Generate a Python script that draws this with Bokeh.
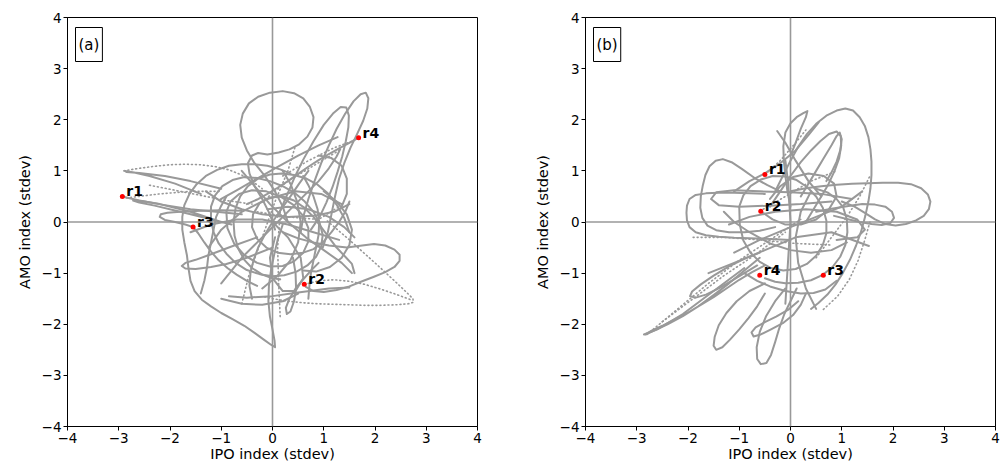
from bokeh.plotting import figure
from bokeh.layouts import row
from bokeh.models import Span, Label, FixedTicker, ColumnDataSource
from bokeh.core.properties import value
from bokeh.embed import file_html
from bokeh.resources import INLINE

# ---------------- data (IPO index, AMO index in stdev) ----------------
ticks = [-4, -3, -2, -1, 0, 1, 2, 3, 4]
tick_labels = ["\u22124", "\u22123", "\u22122", "\u22121", "0", "1", "2", "3", "4"]

# Panel (a) trajectory pieces: slow parts (solid) and fast parts (dotted)
a_solid = [
    [(0.3,0.0),(0.2,0.3),(0.05,0.6),(-0.15,0.9),(-0.35,1.15),(-0.5,1.4),(-0.6,1.65),(-0.63,1.9),(-0.58,2.12),(-0.46,2.32),(-0.28,2.45),(-0.05,2.53),(0.2,2.56),(0.42,2.52),(0.6,2.42),(0.73,2.25),(0.8,2.05),(0.78,1.85),(0.68,1.67),(0.52,1.52),(0.33,1.42),(0.12,1.36),(-0.1,1.32),(-0.28,1.35),(-0.4,1.3),(-0.48,1.15),(-0.45,0.95),(-0.35,0.7),(-0.2,0.45),(-0.05,0.15),(0.05,-0.15)],
    [(0.55,-0.2),(0.6,0.1),(0.7,0.45),(0.82,0.8),(0.95,1.15),(1.1,1.5),(1.25,1.82),(1.42,2.12),(1.58,2.36),(1.72,2.5),(1.82,2.53),(1.87,2.42),(1.85,2.22),(1.77,1.98),(1.65,1.72),(1.52,1.45),(1.4,1.15),(1.3,0.85),(1.22,0.5),(1.15,0.15),(1.08,-0.2),(0.98,-0.5)],
    [(0.1,0.1),(0.25,0.45),(0.42,0.85),(0.6,1.22),(0.8,1.58),(1.0,1.9),(1.18,2.12),(1.33,2.25),(1.44,2.24),(1.49,2.08),(1.48,1.85),(1.43,1.58),(1.36,1.28),(1.27,0.98),(1.17,0.68),(1.05,0.38),(0.92,0.1),(0.75,-0.15)],
    [(1.68,1.65),(1.5,1.55),(1.3,1.44),(1.1,1.33),(0.9,1.21),(0.7,1.08),(0.5,0.94),(0.3,0.8),(0.1,0.67),(-0.1,0.55),(-0.3,0.44),(-0.5,0.35)],
    [(1.27,1.66),(0.9,1.5),(0.5,1.3),(0.1,1.08),(-0.3,0.85),(-0.7,0.62),(-1.0,0.45)],
    [(0.35,0.95),(0.15,1.03),(-0.1,1.1),(-0.35,1.13),(-0.6,1.13),(-0.85,1.1),(-1.08,1.02),(-1.3,0.9),(-1.48,0.74),(-1.62,0.55),(-1.72,0.33),(-1.76,0.1),(-1.76,-0.15),(-1.72,-0.4),(-1.67,-0.65),(-1.64,-0.9),(-1.6,-1.15),(-1.52,-1.35),(-1.38,-1.52),(-1.2,-1.65),(-1.0,-1.78),(-0.78,-1.9),(-0.55,-2.03),(-0.35,-2.17),(-0.17,-2.3),(-0.03,-2.4),(0.05,-2.45),(0.04,-2.32),(0.0,-2.1),(-0.05,-1.85),(-0.08,-1.55),(-0.07,-1.25),(-0.03,-0.95),(0.03,-0.65),(0.1,-0.35),(0.2,-0.05)],
    [(-2.93,0.5),(-2.6,0.42),(-2.1,0.33),(-1.6,0.25),(-1.1,0.2),(-0.6,0.15)],
    [(-1.0,0.0),(-1.6,0.2),(-2.2,0.35),(-2.55,0.41),(-2.72,0.42),(-2.6,0.38),(-2.3,0.32),(-1.8,0.2),(-1.3,0.08),(-0.8,-0.05)],
    [(-1.4,0.55),(-1.9,0.75),(-2.4,0.9),(-2.7,0.97),(-2.88,1.0),(-2.85,0.98),(-2.6,0.96),(-2.1,0.9),(-1.6,0.8),(-1.0,0.65)],
    [(-0.6,0.22),(-1.0,0.23),(-1.4,0.22),(-1.8,0.2),(-2.05,0.18),(-2.18,0.15),(-2.2,0.1),(-2.1,0.04),(-1.9,0.0),(-1.7,-0.05),(-1.55,-0.1),(-1.45,-0.22),(-1.33,-0.4),(-1.2,-0.58),(-1.05,-0.75),(-0.88,-0.9),(-0.7,-1.03),(-0.5,-1.15),(-0.3,-1.25)],
    [(-0.3,-0.3),(-0.8,-0.48),(-1.2,-0.63),(-1.5,-0.74),(-1.7,-0.8),(-1.77,-0.86),(-1.7,-0.91),(-1.5,-0.92),(-1.2,-0.88),(-0.9,-0.82),(-0.5,-0.7),(0.0,-0.5)],
    [(0.2,-0.2),(0.5,-0.32),(0.8,-0.4),(1.1,-0.46),(1.45,-0.5),(1.75,-0.46),(1.98,-0.43),(2.2,-0.46),(2.38,-0.54),(2.48,-0.64),(2.48,-0.76),(2.38,-0.88),(2.2,-0.98),(1.98,-1.07),(1.75,-1.16),(1.5,-1.26),(1.25,-1.33),(1.0,-1.37),(0.8,-1.35),(0.65,-1.27)],
    [(0.9,-0.8),(0.75,-0.95),(0.6,-1.12),(0.45,-1.3),(0.33,-1.5),(0.26,-1.68),(0.28,-1.8),(0.35,-1.75),(0.42,-1.55),(0.46,-1.3),(0.45,-1.0),(0.4,-0.7)],
    [(-0.85,-1.45),(-0.5,-1.48),(0.0,-1.45),(0.5,-1.38),(1.1,-1.3),(1.5,-1.28)],
    [(-1.2,0.3),(-1.12,0.52),(-0.98,0.7),(-0.78,0.82),(-0.55,0.88),(-0.3,0.86),(-0.05,0.8),(0.2,0.7),(0.43,0.57),(0.63,0.4),(0.8,0.2),(0.92,-0.02),(0.98,-0.25),(0.95,-0.48),(0.85,-0.68),(0.68,-0.85),(0.47,-0.97),(0.23,-1.04),(0.0,-1.06),(-0.25,-1.02),(-0.5,-0.94),(-0.72,-0.8),(-0.9,-0.62),(-1.05,-0.42),(-1.15,-0.2),(-1.2,0.05),(-1.2,0.3)],
    [(-0.9,0.2),(-0.82,0.4),(-0.65,0.55),(-0.4,0.62),(-0.12,0.6),(0.15,0.5),(0.4,0.34),(0.6,0.12),(0.7,-0.12),(0.7,-0.38),(0.6,-0.6),(0.42,-0.77),(0.2,-0.86),(-0.05,-0.87),(-0.3,-0.8),(-0.55,-0.65),(-0.75,-0.42),(-0.88,-0.12),(-0.9,0.2)],
    [(-1.0,-1.2),(-0.8,-0.95),(-0.6,-0.7),(-0.35,-0.45),(-0.1,-0.2),(0.15,0.05),(0.4,0.3),(0.65,0.55),(0.9,0.8),(1.1,1.05),(1.25,1.28),(1.32,1.42)],
    [(1.5,0.4),(1.42,0.2),(1.3,0.0),(1.15,-0.2),(1.0,-0.38),(0.8,-0.53),(0.6,-0.6),(0.35,-0.63),(0.1,-0.6),(-0.12,-0.5),(-0.3,-0.33),(-0.4,-0.1),(-0.38,0.15),(-0.25,0.37),(-0.05,0.48),(0.2,0.5),(0.42,0.42),(0.62,0.28),(0.8,0.1),(0.95,-0.1),(1.1,-0.3),(1.25,-0.5),(1.42,-0.68),(1.55,-0.82),(1.6,-1.0)],
    [(1.5,-0.2),(1.4,0.08),(1.25,0.34),(1.08,0.56),(0.88,0.73),(0.66,0.85),(0.42,0.92),(0.18,0.95),(-0.05,0.93),(-0.28,0.85),(-0.48,0.7),(-0.63,0.5),(-0.72,0.27),(-0.76,0.0),(-0.74,-0.27),(-0.67,-0.52),(-0.55,-0.74),(-0.4,-0.9),(-0.2,-1.03),(0.0,-1.1),(0.15,-1.12)],
    [(-0.4,-1.5),(-0.45,-1.25),(-0.43,-1.0),(-0.37,-0.75),(-0.28,-0.5),(-0.15,-0.25),(0.0,0.0),(0.17,0.25),(0.35,0.5),(0.52,0.75),(0.7,1.0)],
    [(0.7,-1.5),(0.72,-1.25),(0.75,-1.0),(0.8,-0.75),(0.85,-0.5),(0.9,-0.25),(0.91,0.0),(0.88,0.25),(0.8,0.5),(0.7,0.72),(0.6,0.9)],
    [(-1.4,-1.4),(-1.33,-1.15),(-1.28,-0.9),(-1.25,-0.65),(-1.2,-0.4),(-1.15,-0.15),(-1.1,0.1),(-1.0,0.32),(-0.9,0.5)],
    [(1.0,0.6),(1.25,0.4),(1.45,0.15),(1.55,-0.15),(1.5,-0.45),(1.35,-0.7),(1.12,-0.88),(0.85,-0.97),(0.6,-0.95)],
    [(-0.6,1.0),(-0.35,0.7),(-0.05,0.35),(0.3,0.0),(0.65,-0.3),(1.0,-0.55),(1.35,-0.8),(1.55,-1.0)],
    [(-1.3,0.6),(-1.0,0.4),(-0.6,0.25),(-0.2,0.15),(0.3,0.1),(0.8,0.12),(1.2,0.2),(1.5,0.35)],
    [(-0.2,-1.3),(0.1,-1.05),(0.35,-0.75),(0.5,-0.4),(0.55,0.0),(0.48,0.4),(0.35,0.75),(0.2,1.0)],
    [(0.9,1.3),(1.15,1.25),(1.35,1.1),(1.45,0.85),(1.45,0.55),(1.35,0.3)],
    [(-1.25,-0.5),(-1.0,-0.15),(-0.6,0.2),(-0.1,0.45),(0.45,0.6),(0.95,0.55),(1.35,0.35)],
    [(0.0,0.0),(0.3,-0.3),(0.55,-0.7),(0.6,-1.1),(0.45,-1.35),(0.2,-1.35),(0.0,-1.1),(-0.05,-0.7),(0.05,-0.3)],
    [(-1.6,-0.2),(-1.2,-0.05),(-0.7,0.05),(-0.2,0.05),(0.3,-0.05),(0.8,-0.2),(1.3,-0.35)],
    [(-1.0,-1.5),(-0.6,-1.6),(-0.2,-1.62),(0.2,-1.55),(0.5,-1.4)],
    [(1.6,-0.3),(1.4,-0.1),(1.1,0.1),(0.7,0.25),(0.3,0.3),(-0.1,0.25)],
]
a_dotted = [
    [(-2.9,1.0),(-2.6,1.05),(-2.3,1.09),(-2.0,1.12),(-1.7,1.13),(-1.4,1.12),(-1.1,1.08),(-0.85,1.02),(-0.6,0.92),(-0.4,0.8),(-0.2,0.65)],
    [(-2.4,0.72),(-1.9,0.62),(-1.4,0.52),(-0.9,0.42),(-0.4,0.35)],
    [(-2.85,0.47),(-2.2,0.55),(-1.6,0.6),(-1.0,0.6)],
    [(1.07,0.02),(1.5,-0.35),(2.0,-0.8),(2.4,-1.17),(2.62,-1.38),(2.74,-1.5),(2.75,-1.57),(2.65,-1.6),(2.4,-1.62),(2.1,-1.63),(1.8,-1.63),(1.5,-1.62),(1.2,-1.61),(0.9,-1.6),(0.6,-1.58),(0.3,-1.55),(0.0,-1.5),(-0.2,-1.45)],
    [(0.62,-1.22),(0.9,-1.15),(1.2,-1.13),(1.5,-1.16),(1.8,-1.22),(2.1,-1.31),(2.4,-1.41),(2.7,-1.52)],
    [(-0.6,-1.6),(-0.45,-1.0),(-0.2,-0.3),(0.05,0.4),(0.3,1.0),(0.45,1.5)],
    [(0.15,-1.85),(0.12,-1.2),(0.1,-0.5),(0.15,0.2)],
    [(0.2,0.9),(0.7,1.2),(1.2,1.45),(1.6,1.6)],
    [(-0.3,0.2),(0.3,0.1),(0.9,0.05),(1.3,0.3)],
    [(-0.2,0.4),(0.3,0.8),(0.8,1.1),(1.3,1.4)],
]
a_marks = ["r1", "r2", "r3", "r4"]
a_mark_x = [-2.93, 0.62, -1.55, 1.68]
a_mark_y = [0.50, -1.22, -0.10, 1.65]

# Panel (b)
b_solid = [
    [(-0.3,0.6),(-0.15,0.9),(0.0,1.2),(0.15,1.47),(0.32,1.72),(0.5,1.92),(0.7,2.08),(0.9,2.18),(1.07,2.22),(1.22,2.18),(1.35,2.05),(1.45,1.88),(1.52,1.66),(1.56,1.42),(1.58,1.18),(1.58,0.92),(1.56,0.66),(1.52,0.4),(1.46,0.12),(1.38,-0.18),(1.28,-0.46),(1.16,-0.74),(1.02,-1.0),(0.88,-1.22),(0.72,-1.42),(0.55,-1.58),(0.4,-1.7)],
    [(-0.4,0.3),(-0.2,0.6),(0.0,0.9),(0.2,1.17),(0.4,1.4),(0.58,1.58),(0.75,1.72),(0.9,1.77),(0.98,1.68),(0.99,1.5),(0.95,1.25),(0.86,1.0),(0.74,0.74),(0.6,0.5),(0.45,0.25),(0.3,0.0)],
    [(0.0,0.6),(0.3,0.66),(0.6,0.7),(0.9,0.73),(1.2,0.75),(1.5,0.76),(1.8,0.77),(2.1,0.77),(2.35,0.74),(2.55,0.66),(2.68,0.54),(2.73,0.4),(2.7,0.25),(2.6,0.12),(2.45,0.03),(2.25,-0.04),(2.05,-0.07),(1.85,-0.04),(1.65,0.05),(1.45,0.18),(1.25,0.3),(1.0,0.4)],
    [(0.5,0.2),(0.8,0.26),(1.1,0.31),(1.4,0.35),(1.65,0.34),(1.85,0.3),(1.98,0.2),(2.02,0.08),(1.95,-0.02),(1.78,-0.06),(1.58,-0.04),(1.35,0.0),(1.1,0.06),(0.85,0.12)],
    [(-0.2,0.6),(-0.45,0.72),(-0.7,0.86),(-0.95,1.04),(-1.15,1.17),(-1.32,1.23),(-1.46,1.2),(-1.58,1.09),(-1.66,0.92),(-1.71,0.72),(-1.75,0.5),(-1.76,0.28),(-1.72,0.08),(-1.62,-0.07),(-1.45,-0.16),(-1.2,-0.2),(-0.9,-0.2),(-0.6,-0.17),(-0.3,-0.1)],
    [(-0.5,0.55),(-0.8,0.56),(-1.1,0.57),(-1.4,0.57),(-1.65,0.56),(-1.85,0.53),(-1.97,0.45),(-2.02,0.32),(-2.03,0.18),(-2.02,0.03),(-1.97,-0.1),(-1.85,-0.2),(-1.65,-0.26),(-1.4,-0.29),(-1.1,-0.31),(-0.8,-0.32),(-0.5,-0.33),(-0.2,-0.34),(0.0,-0.35)],
    [(-0.6,-0.7),(-0.9,-0.95),(-1.2,-1.2),(-1.5,-1.43),(-1.8,-1.65),(-2.1,-1.84),(-2.4,-2.0),(-2.65,-2.12),(-2.83,-2.2),(-2.7,-2.12),(-2.5,-2.03),(-2.25,-1.9),(-2.0,-1.77),(-1.75,-1.62),(-1.5,-1.47),(-1.25,-1.3),(-1.0,-1.13),(-0.75,-0.98),(-0.5,-0.85)],
    [(-0.9,-0.9),(-1.5,-1.35),(-2.1,-1.8),(-2.6,-2.1),(-2.86,-2.2)],
    [(-0.6,-0.6),(-0.9,-0.72),(-1.2,-0.87),(-1.5,-1.05),(-1.75,-1.22),(-1.92,-1.36),(-1.96,-1.45),(-1.85,-1.48),(-1.65,-1.42),(-1.4,-1.3),(-1.15,-1.15),(-0.9,-1.0),(-0.65,-0.85)],
    [(-0.5,-1.2),(-0.8,-1.35),(-1.05,-1.55),(-1.25,-1.78),(-1.4,-2.02),(-1.48,-2.25),(-1.5,-2.42),(-1.45,-2.5),(-1.33,-2.45),(-1.18,-2.3),(-1.0,-2.1),(-0.82,-1.88),(-0.65,-1.65),(-0.5,-1.4)],
    [(-0.1,-1.3),(-0.3,-1.55),(-0.48,-1.85),(-0.6,-2.15),(-0.66,-2.45),(-0.65,-2.68),(-0.58,-2.78),(-0.47,-2.76),(-0.38,-2.6),(-0.3,-2.35),(-0.22,-2.08),(-0.12,-1.8),(0.0,-1.55),(0.12,-1.3)],
    [(0.3,-1.4),(0.2,-1.62),(0.05,-1.82),(-0.15,-1.98),(-0.38,-2.1),(-0.58,-2.2),(-0.72,-2.24),(-0.76,-2.16),(-0.68,-2.06),(-0.5,-1.96),(-0.28,-1.85),(-0.05,-1.72),(0.15,-1.55)],
    [(0.0,0.3),(-0.06,0.6),(-0.1,0.9),(-0.13,1.2),(-0.14,1.48),(-0.1,1.75),(0.0,1.93),(0.12,2.05),(0.25,2.13),(0.33,2.17),(0.3,2.05),(0.2,1.82),(0.1,1.55),(0.0,1.3)],
    [(-0.26,1.78),(-0.1,1.55),(0.1,1.2),(0.35,0.8),(0.6,0.5)],
    [(0.2,0.5),(0.35,0.75),(0.5,1.0),(0.65,1.25),(0.8,1.5),(0.9,1.68),(0.96,1.75),(1.0,1.62),(0.97,1.4),(0.9,1.18),(0.8,0.97),(0.7,0.8)],
    [(-1.0,0.3),(-0.92,0.52),(-0.78,0.7),(-0.58,0.83),(-0.35,0.9),(-0.1,0.89),(0.12,0.82),(0.33,0.68),(0.5,0.5),(0.63,0.28),(0.7,0.03),(0.7,-0.22),(0.63,-0.45),(0.5,-0.66),(0.32,-0.82),(0.1,-0.92),(-0.14,-0.95),(-0.38,-0.9),(-0.6,-0.78),(-0.78,-0.6),(-0.92,-0.36),(-0.99,-0.05),(-1.0,0.3)],
    [(-0.5,-1.1),(-0.3,-1.17),(-0.1,-1.2),(0.15,-1.19),(0.4,-1.14),(0.62,-1.04),(0.82,-0.88),(0.97,-0.68),(1.07,-0.45),(1.11,-0.2),(1.1,0.05),(1.03,0.28),(0.9,0.45),(0.72,0.58),(0.5,0.65)],
    [(-1.1,-0.6),(-0.6,-0.35),(0.0,-0.1),(0.5,0.1),(1.0,0.3),(1.4,0.6)],
    [(-0.9,-1.0),(-0.65,-1.15),(-0.4,-1.26),(-0.1,-1.35),(0.2,-1.4),(0.45,-1.39),(0.68,-1.32),(0.9,-1.15)],
    [(-1.6,-1.0),(-1.1,-0.8),(-0.5,-0.55),(0.1,-0.3),(0.8,-0.2),(1.53,-0.47)],
    [(-0.1,-1.6),(-0.05,-0.8),(0.0,0.0),(-0.05,0.8),(-0.1,1.2)],
    [(-0.58,0.21),(-0.35,0.05),(-0.1,-0.05),(0.2,-0.05),(0.5,0.05),(0.75,0.25),(0.9,0.5),(0.85,0.75),(0.65,0.9),(0.35,0.95),(0.05,0.88),(-0.2,0.7),(-0.4,0.45)],
    [(-1.3,0.2),(-1.1,0.0),(-0.8,-0.2),(-0.4,-0.42),(0.0,-0.55),(0.4,-0.6),(0.8,-0.55),(1.1,-0.4)],
    [(1.2,0.45),(0.6,0.55),(0.0,0.58),(-0.6,0.6),(-1.1,0.62),(-1.45,0.58),(-1.55,0.45),(-1.4,0.33),(-1.0,0.3),(-0.4,0.32),(0.2,0.35),(0.8,0.4)],
    [(-1.2,-0.05),(-0.8,0.1),(-0.3,0.2),(0.3,0.25),(0.9,0.2),(1.3,0.05),(1.45,-0.15),(1.3,-0.3),(0.9,-0.35)],
    [(-1.1,0.6),(-0.8,0.8),(-0.5,0.95),(-0.2,1.15),(0.1,1.4),(0.35,1.7),(0.55,1.95)],
    [(0.5,-1.7),(0.3,-1.3),(0.15,-0.8),(0.1,-0.3),(0.2,0.2),(0.4,0.6)],
]
b_dotted = [
    [(-2.8,-2.2),(-2.2,-1.7),(-1.6,-1.2),(-1.0,-0.75),(-0.4,-0.35),(0.2,0.05)],
    [(-2.5,-1.95),(-1.9,-1.5),(-1.3,-1.05),(-0.7,-0.65),(-0.1,-0.2)],
    [(1.55,0.0),(1.45,-0.35),(1.32,-0.75),(1.15,-1.12),(0.92,-1.45),(0.6,-1.75)],
    [(-0.5,0.93),(-0.2,1.2),(0.1,1.55),(0.3,1.8)],
    [(-1.9,-0.3),(-1.3,-0.3),(-0.6,-0.35),(0.1,-0.42),(0.8,-0.45)],
    [(-0.6,0.21),(-0.1,0.5),(0.4,0.8),(0.9,1.0)],
    [(0.5,-0.7),(0.8,-0.3),(1.1,0.1),(1.35,0.5),(1.55,0.9)],
]
b_marks = ["r1", "r2", "r3", "r4"]
b_mark_x = [-0.50, -0.58, 0.64, -0.60]
b_mark_y = [0.93, 0.21, -1.04, -1.04]

GREY = "#999999"
FONT = "DejaVu Sans"


def split(curves):
    return [[p[0] for p in c] for c in curves], [[p[1] for p in c] for c in curves]


def panel(tag, solid, dotted, names, mx, my, left, right):
    p = figure(frame_width=410, frame_height=409, x_range=(-4, 4), y_range=(-4, 4),
               min_border_left=left, min_border_right=right, min_border_top=17, min_border_bottom=10,
               output_backend="svg", toolbar_location=None)
    p.grid.visible = False
    p.outline_line_color = "black"
    p.outline_line_width = 1
    for ax in (p.xaxis[0], p.yaxis[0]):
        ax.ticker = FixedTicker(ticks=ticks)
        ax.major_label_overrides = {t: l for t, l in zip(ticks, tick_labels)}
        ax.minor_tick_line_color = None
        ax.major_tick_in = 0
        ax.major_tick_out = 4
        ax.axis_line_color = "black"
        ax.major_tick_line_color = "black"
        ax.major_label_text_font = FONT
        ax.major_label_text_font_size = "13.5px"
        ax.major_label_text_color = "black"
        ax.major_label_standoff = 2
        ax.axis_label_text_font = FONT
        ax.axis_label_text_font_size = "14.5px"
        ax.axis_label_text_font_style = "normal"
        ax.axis_label_text_color = "black"
    p.xaxis.axis_label = "IPO index (stdev)"
    p.yaxis.axis_label = "AMO index (stdev)"
    p.xaxis.axis_label_standoff = 0
    p.yaxis.axis_label_standoff = 6

    p.add_layout(Span(location=0, dimension="width", line_color=GREY, line_width=1.6))
    p.add_layout(Span(location=0, dimension="height", line_color=GREY, line_width=1.6))

    sx, sy = split(solid)
    p.multi_line(xs=sx, ys=sy, line_color=GREY, line_width=2, line_join="round", line_cap="round")
    dx, dy = split(dotted)
    p.multi_line(xs=dx, ys=dy, line_color=GREY, line_width=1.6, line_dash="1 3", line_cap="round")

    src = ColumnDataSource(dict(x=mx, y=my, t=names))
    p.scatter("x", "y", source=src, size=5, color="red", line_color=None)
    p.text("x", "y", text="t", source=src, x_offset=4, y_offset=-5, text_font_size="14px",
           text_font_style="bold", text_color="black", text_baseline="alphabetic",
           text_font=value(FONT))

    p.add_layout(Label(x=8, y=409 - 10, x_units="screen", y_units="screen", text=tag,
                       text_font=FONT, text_font_size="15px", text_color="black",
                       text_baseline="top", padding=dict(left=3, right=3, top=8, bottom=8),
                       border_line_color="black", border_line_width=1,
                       background_fill_color="white"))
    return p


pa = panel("(a)", a_solid, a_dotted, a_marks, a_mark_x, a_mark_y, 67, 51)
pb = panel("(b)", b_solid, b_dotted, b_marks, b_mark_x, b_mark_y, 57, 5)
layout = row(pa, pb)
open("out.html", "w").write(file_html(layout, INLINE))
